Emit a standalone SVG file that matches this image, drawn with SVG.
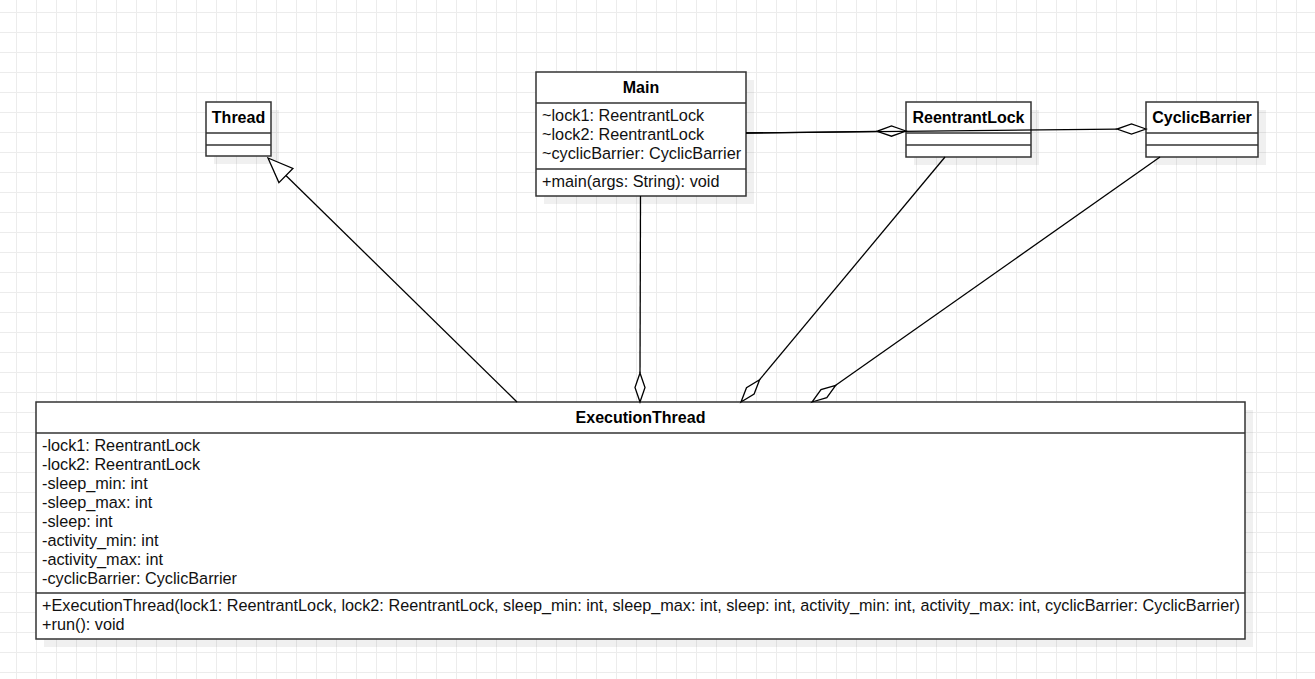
<svg xmlns="http://www.w3.org/2000/svg" width="1315" height="679" viewBox="0 0 1315 679">
<style>
.box{fill:#fff;stroke:#333;stroke-width:1.5}
.sep{stroke:#333;stroke-width:1.5;fill:none}
.shadow{fill:#000;fill-opacity:0.06}
.title{font-family:"Liberation Sans",Arial,sans-serif;font-size:16px;font-weight:bold;fill:#000;text-anchor:middle}
.item{font-family:"Liberation Sans",Arial,sans-serif;font-size:16.25px;fill:#111}
.edge{stroke:#000;stroke-width:1.3;fill:none}
.dia{stroke:#000;stroke-width:1.3;fill:#fff;stroke-linejoin:miter}
</style>
<defs>
<pattern id="grid" patternUnits="userSpaceOnUse" x="16" y="12" width="20" height="20">
<path d="M0 0.5 H20 M0.5 0 V20" stroke="#ececec" stroke-width="1" fill="none"/>
</pattern>
</defs>
<rect x="0" y="0" width="1315" height="679" fill="#fff"/>
<rect x="0" y="0" width="1315" height="679" fill="url(#grid)"/>

<g id="Thread">
<rect class="shadow" x="214" y="110" width="65" height="54"/>
<rect class="box" x="206" y="102" width="65" height="54"/>
<line class="sep" x1="206" y1="133" x2="271" y2="133"/>
<line class="sep" x1="206" y1="145" x2="271" y2="145"/>
<text class="title" x="238.5" y="123">Thread</text>
</g>

<g id="Main">
<rect class="shadow" x="544" y="80" width="210" height="124"/>
<rect class="box" x="536" y="72" width="210" height="124"/>
<line class="sep" x1="536" y1="103" x2="746" y2="103"/>
<line class="sep" x1="536" y1="169" x2="746" y2="169"/>
<text class="title" x="641" y="93">Main</text>
<text class="item" x="542" y="121">~lock1: ReentrantLock</text>
<text class="item" x="542" y="140">~lock2: ReentrantLock</text>
<text class="item" x="542" y="159">~cyclicBarrier: CyclicBarrier</text>
<text class="item" x="542" y="187">+main(args: String): void</text>
</g>

<g id="ReentrantLock">
<rect class="shadow" x="914" y="110" width="125" height="55"/>
<rect class="box" x="906" y="102" width="125" height="55"/>
<line class="sep" x1="906" y1="133" x2="1031" y2="133"/>
<line class="sep" x1="906" y1="145" x2="1031" y2="145"/>
<text class="title" x="968.5" y="123">ReentrantLock</text>
</g>

<g id="CyclicBarrier">
<rect class="shadow" x="1154" y="110" width="112" height="55"/>
<rect class="box" x="1146" y="102" width="112" height="55"/>
<line class="sep" x1="1146" y1="133" x2="1258" y2="133"/>
<line class="sep" x1="1146" y1="145" x2="1258" y2="145"/>
<text class="title" x="1202" y="123">CyclicBarrier</text>
</g>

<g id="ExecutionThread">
<rect class="shadow" x="44" y="410" width="1209" height="237"/>
<rect class="box" x="36" y="402" width="1209" height="237"/>
<line class="sep" x1="36" y1="433" x2="1245" y2="433"/>
<line class="sep" x1="36" y1="593" x2="1245" y2="593"/>
<text class="title" x="640.5" y="423">ExecutionThread</text>
<text class="item" x="42" y="451">-lock1: ReentrantLock</text>
<text class="item" x="42" y="470">-lock2: ReentrantLock</text>
<text class="item" x="42" y="489">-sleep_min: int</text>
<text class="item" x="42" y="508">-sleep_max: int</text>
<text class="item" x="42" y="527">-sleep: int</text>
<text class="item" x="42" y="546">-activity_min: int</text>
<text class="item" x="42" y="565">-activity_max: int</text>
<text class="item" x="42" y="584">-cyclicBarrier: CyclicBarrier</text>
<text class="item" x="42" y="611">+ExecutionThread(lock1: ReentrantLock, lock2: ReentrantLock, sleep_min: int, sleep_max: int, sleep: int, activity_min: int, activity_max: int, cyclicBarrier: CyclicBarrier)</text>
<text class="item" x="42" y="630">+run(): void</text>
</g>

<g id="connectors">
<line class="edge" x1="517" y1="402" x2="285.9" y2="175.5"/>
<polygon class="dia" points="268,158 292.9,168.4 278.9,182.6"/>
<line class="edge" x1="640.5" y1="196" x2="640" y2="373"/>
<polygon class="dia" points="640,402 645,387.5 640,373 635,387.5"/>
<line class="edge" x1="945" y1="157" x2="759.6" y2="379.7"/>
<polygon class="dia" points="741,402 754.1,394.1 759.6,379.7 746.5,387.7"/>
<line class="edge" x1="1160" y1="157" x2="835.7" y2="385.3"/>
<polygon class="dia" points="812,402 826.8,397.7 835.7,385.3 821,389.6"/>
<line class="edge" x1="746" y1="133" x2="877" y2="131.3"/>
<polygon class="dia" points="906,131 891.5,126 877,131.3 891.5,136.2"/>
<line class="edge" x1="746" y1="133" x2="1117" y2="129.1"/>
<polygon class="dia" points="1146,129 1131.5,124 1117,129.1 1131.5,134"/>
</g>
</svg>
